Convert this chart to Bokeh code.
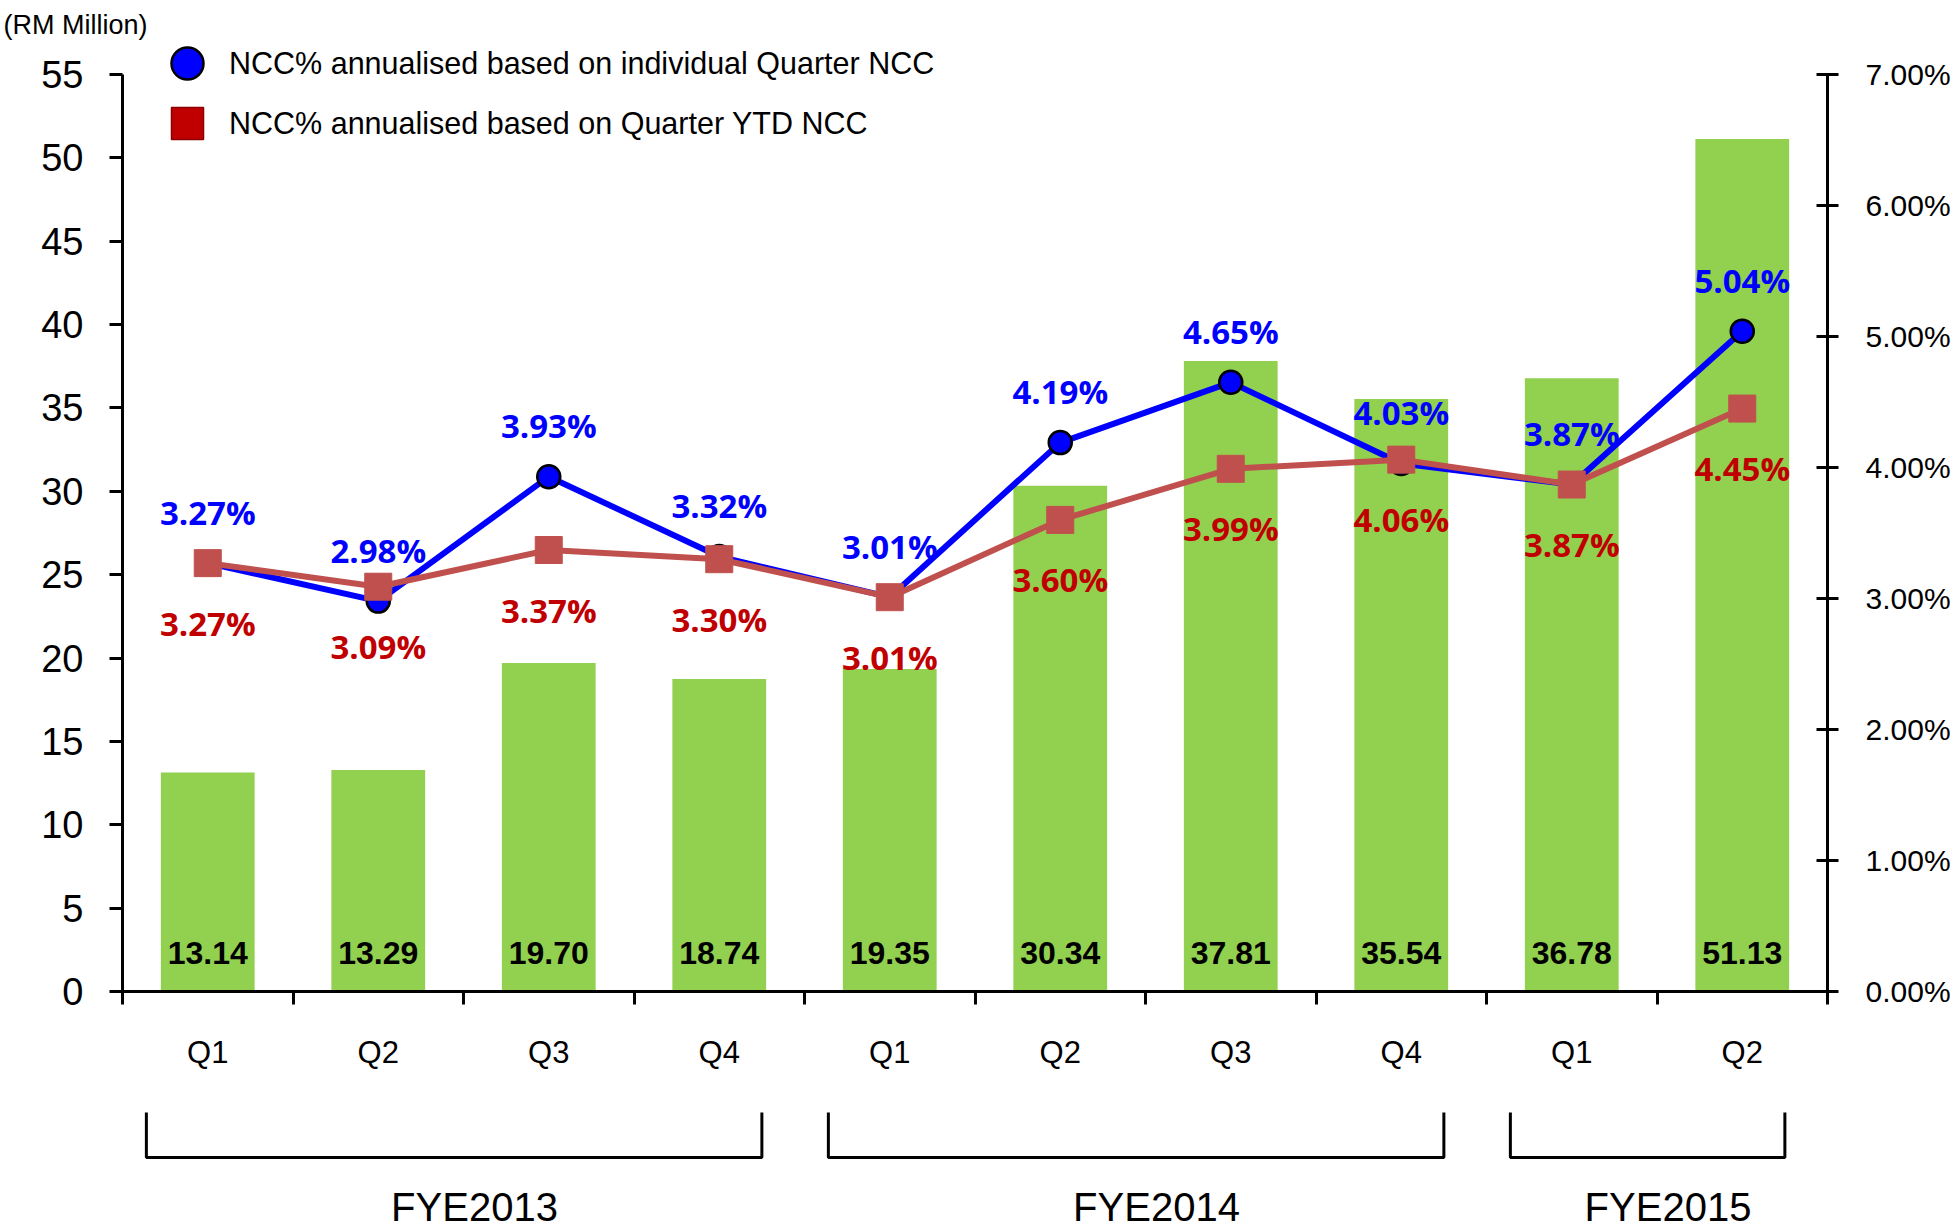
from bokeh.plotting import figure
from bokeh.models import (Range1d, LinearAxis, FixedTicker, PrintfTickFormatter,
                          Legend, LegendItem)
from bokeh.layouts import column
from bokeh.core.properties import value
from bokeh.embed import file_html
from bokeh.resources import INLINE

# ---------------- data ----------------
quarters = ["Q1", "Q2", "Q3", "Q4", "Q1", "Q2", "Q3", "Q4", "Q1", "Q2"]
years = ["FYE2013", "FYE2014", "FYE2015"]
quarters_per_year = [4, 4, 2]
ncc_rm_million = [13.14, 13.29, 19.70, 18.74, 19.35, 30.34, 37.81, 35.54, 36.78, 51.13]
ncc_pct_individual = [3.27, 2.98, 3.93, 3.32, 3.01, 4.19, 4.65, 4.03, 3.87, 5.04]
ncc_pct_ytd = [3.27, 3.09, 3.37, 3.30, 3.01, 3.60, 3.99, 4.06, 3.87, 4.45]
left_ticks = [0, 5, 10, 15, 20, 25, 30, 35, 40, 45, 50, 55]
right_ticks = [0, 1, 2, 3, 4, 5, 6, 7]
legend_labels = ["NCC% annualised based on individual Quarter NCC",
                 "NCC% annualised based on Quarter YTD NCC"]
unit_label = "(RM Million)"

# ---------------- styles ----------------
SANS = "Liberation Sans"
LABEL_FONT = "Open Sans"
BAR_COLOR = "#92D050"
BLUE = "#0000FF"
RED_LINE = "#C0504D"
RED_TEXT = "#C00000"

n = len(quarters)
centers = [i + 0.5 for i in range(n)]
boundaries = list(range(n + 1))

FRAME_W = 1705
AXIS_H = 917          # pixel height of the 0..55 axis
HEADROOM = 34         # frame space above the top tick (legend lives there)
FRAME_H = AXIS_H + HEADROOM
top_left = left_ticks[-1] * FRAME_H / AXIS_H
top_right = right_ticks[-1] * FRAME_H / AXIS_H

p = figure(frame_width=FRAME_W, frame_height=FRAME_H,
           x_range=Range1d(0, n), y_range=Range1d(0, top_left),
           output_backend="svg", toolbar_location=None,
           min_border_left=122, min_border_top=40, min_border_bottom=105,
           min_border_right=5, title=unit_label)
p.outline_line_color = None
p.xgrid.visible = False
p.ygrid.visible = False
p.background_fill_color = "white"
p.title.align = "left"
p.title.offset = -119
p.title.standoff = 0
p.title.text_font = SANS
p.title.text_font_style = "normal"
p.title.text_font_size = "27px"
p.title.text_color = "black"
p.title.vertical_align = "middle"

p.extra_y_ranges = {"pct": Range1d(0, top_right)}

# bars
p.vbar(x=centers, top=ncc_rm_million, width=0.55, bottom=0,
       fill_color=BAR_COLOR, line_color=None)

# lines
p.line(centers, ncc_pct_individual, y_range_name="pct", line_color=BLUE, line_width=6)
p.scatter(centers, ncc_pct_individual, y_range_name="pct", marker="circle", size=23,
          fill_color=BLUE, line_color="black", line_width=2.5)
p.line(centers, ncc_pct_ytd, y_range_name="pct", line_color=RED_LINE, line_width=6)
p.scatter(centers, ncc_pct_ytd, y_range_name="pct", marker="square", size=27,
          fill_color=RED_LINE, line_color=RED_LINE, line_width=1)

# bar value labels
p.text(x=centers, y=[0] * n, text=[f"{v:.2f}" for v in ncc_rm_million],
       y_offset=-39, text_align="center", text_baseline="middle",
       text_font=value(SANS), text_font_style="bold", text_font_size="32px",
       text_color="black")

# percent labels
p.text(x=centers, y=ncc_pct_individual, y_range_name="pct",
       text=[f"{v:.2f}%" for v in ncc_pct_individual],
       y_offset=-51, text_align="center", text_baseline="middle",
       text_font=value(LABEL_FONT), text_font_style="bold", text_font_size="33px",
       text_color=BLUE)
p.text(x=centers, y=ncc_pct_ytd, y_range_name="pct",
       text=[f"{v:.2f}%" for v in ncc_pct_ytd],
       y_offset=60, text_align="center", text_baseline="middle",
       text_font=value(LABEL_FONT), text_font_style="bold", text_font_size="33px",
       text_color=RED_TEXT)

# axes
xa = p.xaxis[0]
xa.ticker = FixedTicker(ticks=centers, minor_ticks=boundaries)
xa.major_label_overrides = {c: q for c, q in zip(centers, quarters)}
xa.major_tick_out = 0
xa.major_tick_in = 0
xa.minor_tick_out = 13
xa.minor_tick_in = 0
xa.minor_tick_line_width = 3
xa.minor_tick_line_color = "black"
xa.axis_line_width = 3
xa.axis_line_color = "black"
xa.major_label_text_font = SANS
xa.major_label_text_font_size = "31px"
xa.major_label_text_color = "black"
xa.major_label_standoff = 30

ya = p.yaxis[0]
ya.ticker = FixedTicker(ticks=left_ticks)
ya.bounds = (left_ticks[0], left_ticks[-1])
ya.major_tick_out = 13
ya.major_tick_in = 0
ya.major_tick_line_width = 3
ya.axis_line_width = 3
ya.axis_line_color = "black"
ya.major_tick_line_color = "black"
ya.major_label_text_font = SANS
ya.major_label_text_font_size = "38px"
ya.major_label_text_color = "black"
ya.major_label_standoff = 26

ra = LinearAxis(y_range_name="pct", ticker=FixedTicker(ticks=right_ticks),
                formatter=PrintfTickFormatter(format="%.2f%%"),
                bounds=(right_ticks[0], right_ticks[-1]))
ra.major_tick_out = 11
ra.major_tick_in = 11
ra.major_tick_line_width = 3
ra.axis_line_width = 3
ra.axis_line_color = "black"
ra.major_tick_line_color = "black"
ra.major_label_text_font = SANS
ra.major_label_text_font_size = "30px"
ra.major_label_text_color = "black"
ra.major_label_standoff = 27
p.add_layout(ra, "right")

# legend (dummy renderers so the legend swatches can be styled)
nan = float("nan")
leg_blue = p.scatter([nan], [nan], marker="circle", fill_color=BLUE,
                     line_color="black", line_width=2.5)
leg_red = p.scatter([nan], [nan], marker="square", fill_color=RED_TEXT,
                    line_color="#8B0000", line_width=1.5)
legend_style = dict(orientation="vertical", glyph_width=80, glyph_height=80,
                    label_standoff=2, padding=0, margin=0,
                    label_text_font=SANS, label_text_font_size="30.5px",
                    label_text_color="black",
                    border_line_color=None, background_fill_alpha=0)
p.add_layout(Legend(items=[LegendItem(label=legend_labels[0], renderers=[leg_blue])],
                    location=(25, 888), **legend_style), "center")
p.add_layout(Legend(items=[LegendItem(label=legend_labels[1], renderers=[leg_red])],
                    location=(25, 828), **legend_style), "center")

# ---------------- lower panel: year brackets ----------------
H2 = 136
p2 = figure(frame_width=FRAME_W, frame_height=H2, x_range=p.x_range,
            y_range=Range1d(0, H2), output_backend="svg", toolbar_location=None,
            min_border_left=122, min_border_right=5, min_border_top=0,
            min_border_bottom=0)
p2.outline_line_color = None
p2.axis.visible = False
p2.grid.visible = False

starts, ends = [], []
s = 0
for c in quarters_per_year:
    starts.append(s)
    ends.append(s + c)
    s += c
pad_l, pad_r = 0.14, 0.25
br_top, br_bot = 120, 75
xs = [[a + pad_l, a + pad_l, b - pad_r, b - pad_r] for a, b in zip(starts, ends)]
ys = [[br_top, br_bot, br_bot, br_top] for _ in years]
p2.multi_line(xs, ys, line_color="black", line_width=3)
p2.text(x=[(a + b) / 2 for a, b in zip(starts, ends)], y=[26] * len(years), text=years,
        x_offset=11, text_align="center", text_baseline="middle", text_font=value(SANS),
        text_font_size="40px", text_color="black")

layout = column(p, p2, spacing=0)
open("out.html", "w").write(file_html(layout, INLINE))
